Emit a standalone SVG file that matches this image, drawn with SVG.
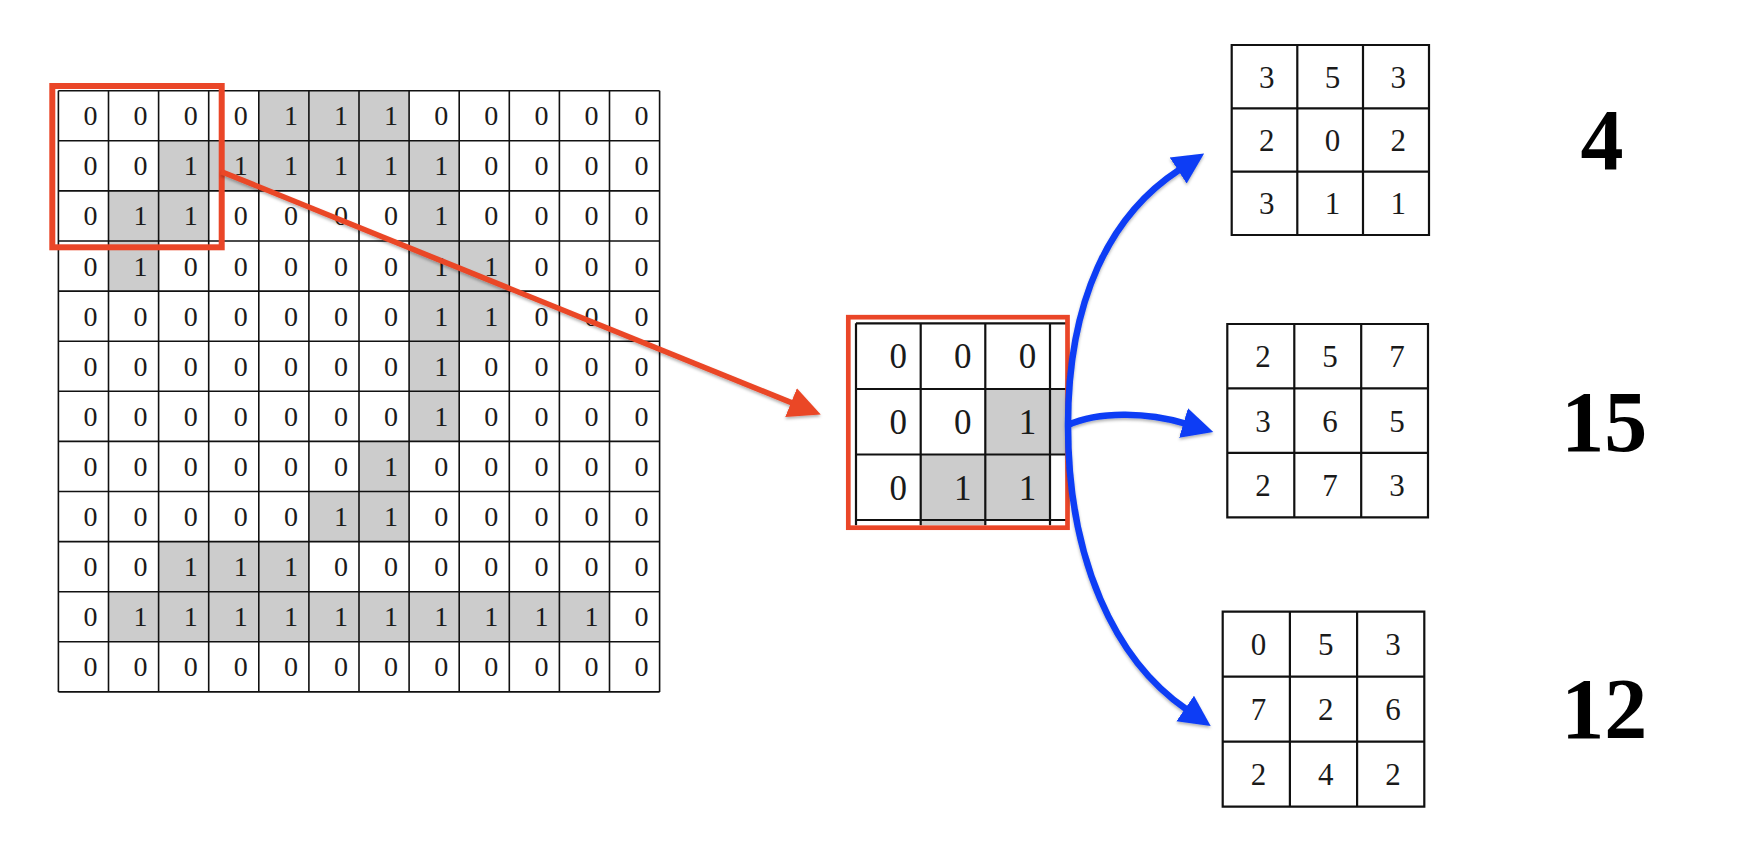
<svg xmlns="http://www.w3.org/2000/svg" width="1754" height="857" viewBox="0 0 1754 857">
<style>
.cell{font-family:"Liberation Serif","Times New Roman",serif;font-size:28px;text-anchor:middle;fill:#1a1a1a}
.mcell{font-family:"Liberation Serif","Times New Roman",serif;font-size:35px;text-anchor:middle;fill:#1a1a1a}
.rcell{font-family:"Liberation Serif","Times New Roman",serif;font-size:31px;text-anchor:middle;fill:#1a1a1a}
.big{font-family:"Liberation Serif","Times New Roman",serif;font-size:86px;font-weight:bold;text-anchor:middle;fill:#000}
.gray{fill:#cccccc}
.gl{fill:none;stroke:#111;stroke-width:1.6}
.gl2{fill:none;stroke:#111;stroke-width:2.2}
.redbox{fill:none;stroke:#ea4628}
.blue{fill:none;stroke:#0b3cf5;stroke-width:6.5}
.red{fill:none;stroke:#ea4628;stroke-width:5.5}
</style>
<defs>
<filter id="sh" x="-20%" y="-20%" width="140%" height="140%">
<feDropShadow dx="0" dy="2" stdDeviation="1.5" flood-color="#000" flood-opacity="0.3"/>
</filter>
<marker id="ahb" markerUnits="userSpaceOnUse" markerWidth="34" markerHeight="34" viewBox="0 -17 34 34" refX="1" refY="0" orient="auto">
<path d="M0,-15.5 L31,0 L0,15.5 z" fill="#0b3cf5"/>
</marker>
<marker id="ahr" markerUnits="userSpaceOnUse" markerWidth="34" markerHeight="34" viewBox="0 -17 34 34" refX="1" refY="0" orient="auto">
<path d="M0,-15.5 L32,0 L0,15.5 z" fill="#ea4628"/>
</marker>
</defs>
<rect width="1754" height="857" fill="#fff"/>

<g id="input-grid">
<rect class="gray" x="258.8" y="90.7" width="150.3" height="50.1"/>
<rect class="gray" x="158.6" y="140.8" width="300.6" height="50.1"/>
<rect class="gray" x="108.5" y="190.9" width="100.2" height="50.1"/>
<rect class="gray" x="409.1" y="190.9" width="50.1" height="50.1"/>
<rect class="gray" x="108.5" y="241.0" width="50.1" height="50.1"/>
<rect class="gray" x="409.1" y="241.0" width="100.2" height="50.1"/>
<rect class="gray" x="409.1" y="291.1" width="100.2" height="50.1"/>
<rect class="gray" x="409.1" y="341.2" width="50.1" height="50.1"/>
<rect class="gray" x="409.1" y="391.3" width="50.1" height="50.1"/>
<rect class="gray" x="359.0" y="441.4" width="50.1" height="50.1"/>
<rect class="gray" x="308.9" y="491.5" width="100.2" height="50.1"/>
<rect class="gray" x="158.6" y="541.6" width="150.3" height="50.1"/>
<rect class="gray" x="108.5" y="591.7" width="501" height="50.1"/>
<path class="gl" d="M58.4,90.7V691.9M108.5,90.7V691.9M158.6,90.7V691.9M208.7,90.7V691.9M258.8,90.7V691.9M308.9,90.7V691.9M359,90.7V691.9M409.1,90.7V691.9M459.2,90.7V691.9M509.3,90.7V691.9M559.4,90.7V691.9M609.5,90.7V691.9M659.6,90.7V691.9M58.4,90.7H659.6M58.4,140.8H659.6M58.4,190.9H659.6M58.4,241H659.6M58.4,291.1H659.6M58.4,341.2H659.6M58.4,391.3H659.6M58.4,441.4H659.6M58.4,491.5H659.6M58.4,541.6H659.6M58.4,591.7H659.6M58.4,641.8H659.6M58.4,691.9H659.6"/>
<text class="cell" x="90.5" y="125.2">0</text><text class="cell" x="140.6" y="125.2">0</text><text class="cell" x="190.7" y="125.2">0</text><text class="cell" x="240.8" y="125.2">0</text><text class="cell" x="290.9" y="125.2">1</text><text class="cell" x="341" y="125.2">1</text><text class="cell" x="391.1" y="125.2">1</text><text class="cell" x="441.2" y="125.2">0</text><text class="cell" x="491.3" y="125.2">0</text><text class="cell" x="541.4" y="125.2">0</text><text class="cell" x="591.5" y="125.2">0</text><text class="cell" x="641.6" y="125.2">0</text>
<text class="cell" x="90.5" y="175.3">0</text><text class="cell" x="140.6" y="175.3">0</text><text class="cell" x="190.7" y="175.3">1</text><text class="cell" x="240.8" y="175.3">1</text><text class="cell" x="290.9" y="175.3">1</text><text class="cell" x="341" y="175.3">1</text><text class="cell" x="391.1" y="175.3">1</text><text class="cell" x="441.2" y="175.3">1</text><text class="cell" x="491.3" y="175.3">0</text><text class="cell" x="541.4" y="175.3">0</text><text class="cell" x="591.5" y="175.3">0</text><text class="cell" x="641.6" y="175.3">0</text>
<text class="cell" x="90.5" y="225.4">0</text><text class="cell" x="140.6" y="225.4">1</text><text class="cell" x="190.7" y="225.4">1</text><text class="cell" x="240.8" y="225.4">0</text><text class="cell" x="290.9" y="225.4">0</text><text class="cell" x="341" y="225.4">0</text><text class="cell" x="391.1" y="225.4">0</text><text class="cell" x="441.2" y="225.4">1</text><text class="cell" x="491.3" y="225.4">0</text><text class="cell" x="541.4" y="225.4">0</text><text class="cell" x="591.5" y="225.4">0</text><text class="cell" x="641.6" y="225.4">0</text>
<text class="cell" x="90.5" y="275.5">0</text><text class="cell" x="140.6" y="275.5">1</text><text class="cell" x="190.7" y="275.5">0</text><text class="cell" x="240.8" y="275.5">0</text><text class="cell" x="290.9" y="275.5">0</text><text class="cell" x="341" y="275.5">0</text><text class="cell" x="391.1" y="275.5">0</text><text class="cell" x="441.2" y="275.5">1</text><text class="cell" x="491.3" y="275.5">1</text><text class="cell" x="541.4" y="275.5">0</text><text class="cell" x="591.5" y="275.5">0</text><text class="cell" x="641.6" y="275.5">0</text>
<text class="cell" x="90.5" y="325.6">0</text><text class="cell" x="140.6" y="325.6">0</text><text class="cell" x="190.7" y="325.6">0</text><text class="cell" x="240.8" y="325.6">0</text><text class="cell" x="290.9" y="325.6">0</text><text class="cell" x="341" y="325.6">0</text><text class="cell" x="391.1" y="325.6">0</text><text class="cell" x="441.2" y="325.6">1</text><text class="cell" x="491.3" y="325.6">1</text><text class="cell" x="541.4" y="325.6">0</text><text class="cell" x="591.5" y="325.6">0</text><text class="cell" x="641.6" y="325.6">0</text>
<text class="cell" x="90.5" y="375.7">0</text><text class="cell" x="140.6" y="375.7">0</text><text class="cell" x="190.7" y="375.7">0</text><text class="cell" x="240.8" y="375.7">0</text><text class="cell" x="290.9" y="375.7">0</text><text class="cell" x="341" y="375.7">0</text><text class="cell" x="391.1" y="375.7">0</text><text class="cell" x="441.2" y="375.7">1</text><text class="cell" x="491.3" y="375.7">0</text><text class="cell" x="541.4" y="375.7">0</text><text class="cell" x="591.5" y="375.7">0</text><text class="cell" x="641.6" y="375.7">0</text>
<text class="cell" x="90.5" y="425.8">0</text><text class="cell" x="140.6" y="425.8">0</text><text class="cell" x="190.7" y="425.8">0</text><text class="cell" x="240.8" y="425.8">0</text><text class="cell" x="290.9" y="425.8">0</text><text class="cell" x="341" y="425.8">0</text><text class="cell" x="391.1" y="425.8">0</text><text class="cell" x="441.2" y="425.8">1</text><text class="cell" x="491.3" y="425.8">0</text><text class="cell" x="541.4" y="425.8">0</text><text class="cell" x="591.5" y="425.8">0</text><text class="cell" x="641.6" y="425.8">0</text>
<text class="cell" x="90.5" y="475.9">0</text><text class="cell" x="140.6" y="475.9">0</text><text class="cell" x="190.7" y="475.9">0</text><text class="cell" x="240.8" y="475.9">0</text><text class="cell" x="290.9" y="475.9">0</text><text class="cell" x="341" y="475.9">0</text><text class="cell" x="391.1" y="475.9">1</text><text class="cell" x="441.2" y="475.9">0</text><text class="cell" x="491.3" y="475.9">0</text><text class="cell" x="541.4" y="475.9">0</text><text class="cell" x="591.5" y="475.9">0</text><text class="cell" x="641.6" y="475.9">0</text>
<text class="cell" x="90.5" y="526">0</text><text class="cell" x="140.6" y="526">0</text><text class="cell" x="190.7" y="526">0</text><text class="cell" x="240.8" y="526">0</text><text class="cell" x="290.9" y="526">0</text><text class="cell" x="341" y="526">1</text><text class="cell" x="391.1" y="526">1</text><text class="cell" x="441.2" y="526">0</text><text class="cell" x="491.3" y="526">0</text><text class="cell" x="541.4" y="526">0</text><text class="cell" x="591.5" y="526">0</text><text class="cell" x="641.6" y="526">0</text>
<text class="cell" x="90.5" y="576.1">0</text><text class="cell" x="140.6" y="576.1">0</text><text class="cell" x="190.7" y="576.1">1</text><text class="cell" x="240.8" y="576.1">1</text><text class="cell" x="290.9" y="576.1">1</text><text class="cell" x="341" y="576.1">0</text><text class="cell" x="391.1" y="576.1">0</text><text class="cell" x="441.2" y="576.1">0</text><text class="cell" x="491.3" y="576.1">0</text><text class="cell" x="541.4" y="576.1">0</text><text class="cell" x="591.5" y="576.1">0</text><text class="cell" x="641.6" y="576.1">0</text>
<text class="cell" x="90.5" y="626.2">0</text><text class="cell" x="140.6" y="626.2">1</text><text class="cell" x="190.7" y="626.2">1</text><text class="cell" x="240.8" y="626.2">1</text><text class="cell" x="290.9" y="626.2">1</text><text class="cell" x="341" y="626.2">1</text><text class="cell" x="391.1" y="626.2">1</text><text class="cell" x="441.2" y="626.2">1</text><text class="cell" x="491.3" y="626.2">1</text><text class="cell" x="541.4" y="626.2">1</text><text class="cell" x="591.5" y="626.2">1</text><text class="cell" x="641.6" y="626.2">0</text>
<text class="cell" x="90.5" y="676.3">0</text><text class="cell" x="140.6" y="676.3">0</text><text class="cell" x="190.7" y="676.3">0</text><text class="cell" x="240.8" y="676.3">0</text><text class="cell" x="290.9" y="676.3">0</text><text class="cell" x="341" y="676.3">0</text><text class="cell" x="391.1" y="676.3">0</text><text class="cell" x="441.2" y="676.3">0</text><text class="cell" x="491.3" y="676.3">0</text><text class="cell" x="541.4" y="676.3">0</text><text class="cell" x="591.5" y="676.3">0</text><text class="cell" x="641.6" y="676.3">0</text>
<rect class="redbox" stroke-width="6" x="52.3" y="86" width="169.4" height="161.3"/>
</g>

<g id="window-grid">
<rect class="gray" x="985.3" y="389" width="80.7" height="65.5"/>
<rect class="gray" x="920.7" y="454.5" width="129.3" height="65.5"/>
<rect class="gray" x="920.7" y="520" width="64.6" height="5.3"/>
<path class="gl2" d="M856,323.3V525.3M920.7,323.3V525.3M985.3,323.3V525.3M1050,323.3V525.3M856,323.3H1066M856,389H1066M856,454.5H1066M856,520H1066"/>
<text class="mcell" x="898.2" y="368.3">0</text><text class="mcell" x="962.8" y="368.3">0</text><text class="mcell" x="1027.5" y="368.3">0</text>
<text class="mcell" x="898.2" y="434">0</text><text class="mcell" x="962.8" y="434">0</text><text class="mcell" x="1027.5" y="434">1</text>
<text class="mcell" x="898.2" y="499.5">0</text><text class="mcell" x="962.8" y="499.5">1</text><text class="mcell" x="1027.5" y="499.5">1</text>
<rect class="redbox" stroke-width="4.7" x="848.3" y="317.2" width="219.2" height="210.5"/>
</g>

<g id="kernel-a">
<path class="gl2" d="M1231.7,45H1429V235H1231.7ZM1297.3,45V235M1363,45V235M1231.7,108.3H1429M1231.7,171.7H1429"/>
<text class="rcell" x="1266.8" y="87.5">3</text><text class="rcell" x="1332.5" y="87.5">5</text><text class="rcell" x="1398.3" y="87.5">3</text>
<text class="rcell" x="1266.8" y="150.8">2</text><text class="rcell" x="1332.5" y="150.8">0</text><text class="rcell" x="1398.3" y="150.8">2</text>
<text class="rcell" x="1266.8" y="214.1">3</text><text class="rcell" x="1332.5" y="214.1">1</text><text class="rcell" x="1398.3" y="214.1">1</text>
</g>

<g id="kernel-b">
<path class="gl2" d="M1227.3,324H1428V517.3H1227.3ZM1294.3,324V517.3M1361.2,324V517.3M1227.3,388.4H1428M1227.3,452.9H1428"/>
<text class="rcell" x="1263.1" y="367">2</text><text class="rcell" x="1330.1" y="367">5</text><text class="rcell" x="1396.9" y="367">7</text>
<text class="rcell" x="1263.1" y="431.5">3</text><text class="rcell" x="1330.1" y="431.5">6</text><text class="rcell" x="1396.9" y="431.5">5</text>
<text class="rcell" x="1263.1" y="495.9">2</text><text class="rcell" x="1330.1" y="495.9">7</text><text class="rcell" x="1396.9" y="495.9">3</text>
</g>

<g id="kernel-c">
<path class="gl2" d="M1222.7,611.7H1424.3V806.7H1222.7ZM1289.9,611.7V806.7M1357.1,611.7V806.7M1222.7,676.7H1424.3M1222.7,741.7H1424.3"/>
<text class="rcell" x="1258.6" y="655">0</text><text class="rcell" x="1325.8" y="655">5</text><text class="rcell" x="1393" y="655">3</text>
<text class="rcell" x="1258.6" y="720">7</text><text class="rcell" x="1325.8" y="720">2</text><text class="rcell" x="1393" y="720">6</text>
<text class="rcell" x="1258.6" y="785">2</text><text class="rcell" x="1325.8" y="785">4</text><text class="rcell" x="1393" y="785">2</text>
</g>

<g id="results">
<text class="big" x="1602" y="169">4</text>
<text class="big" x="1604.3" y="450.5">15</text>
<text class="big" x="1604.3" y="737.5">12</text>
</g>

<g id="connectors" filter="url(#sh)">
<path class="red" d="M221.6,171.7 L792,402.9" marker-end="url(#ahr)"/>
<path class="blue" d="M1068,425 C1068,300 1110,215 1179,170" marker-end="url(#ahb)"/>
<path class="blue" d="M1068,425 C1100,410 1150,413 1184.5,423.3" marker-end="url(#ahb)"/>
<path class="blue" d="M1068,425 C1068,560 1115,660 1186,709" marker-end="url(#ahb)"/>
</g>
</svg>
